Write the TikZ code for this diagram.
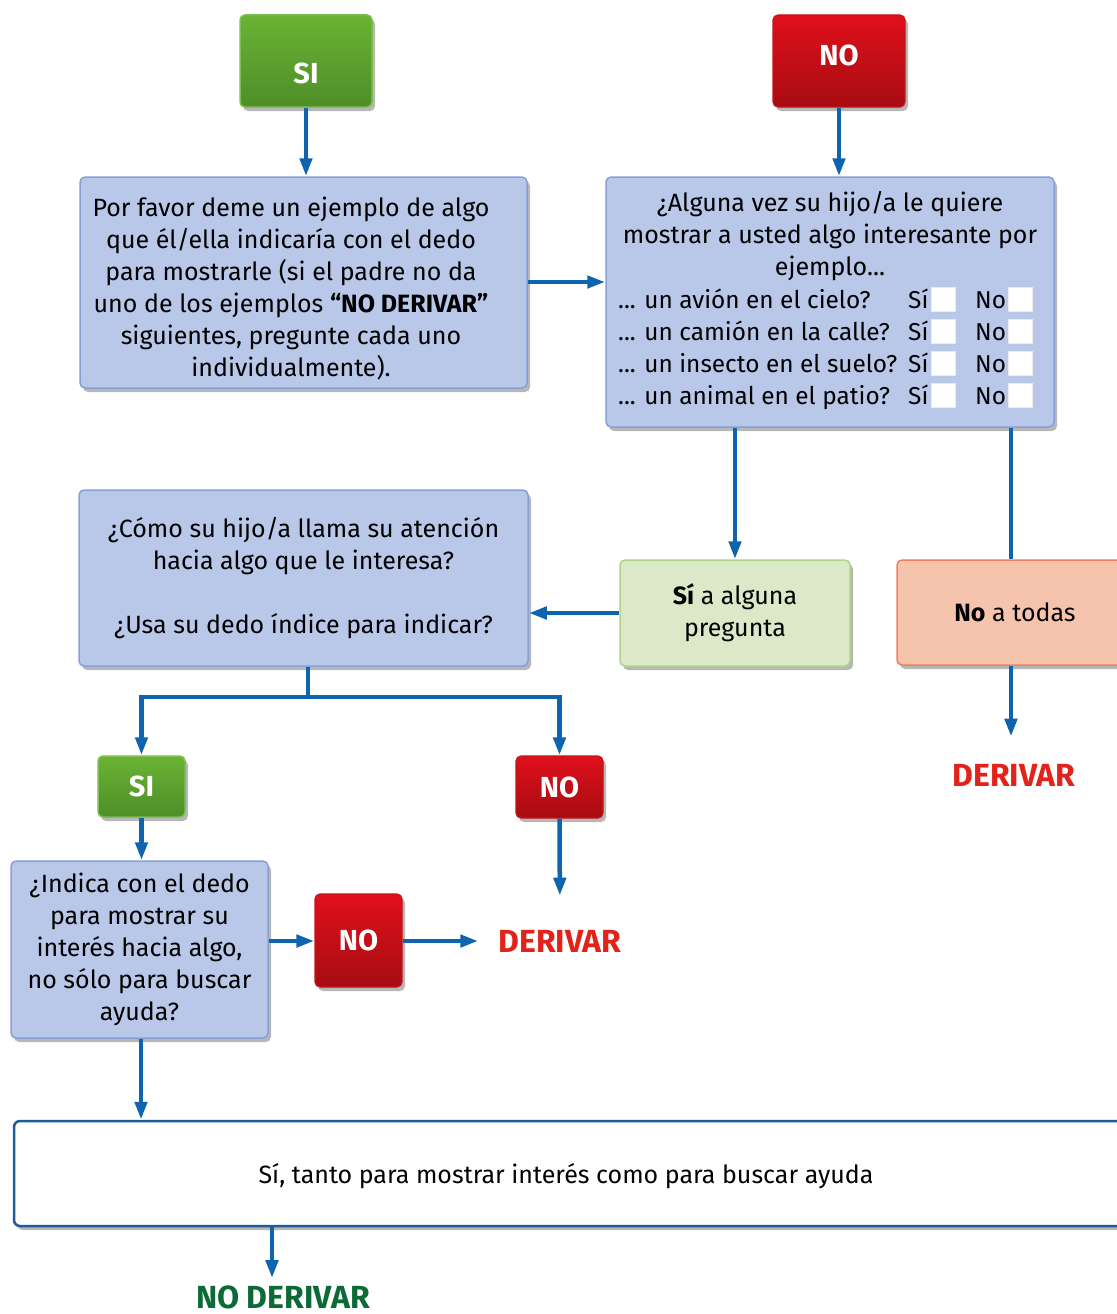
\documentclass[tikz,border=0pt]{standalone}
\usepackage{fontspec}
\setmainfont{Fira Sans}
\usetikzlibrary{arrows.meta,shadows,calc}
\definecolor{boxfill}{HTML}{B9C8E9}
\definecolor{boxborder}{HTML}{86A0D5}
\definecolor{arrowblue}{HTML}{0F64B0}
\definecolor{gtop}{HTML}{6AB334}
\definecolor{gbot}{HTML}{4E8E28}
\definecolor{gborder}{HTML}{7DBF50}
\definecolor{rtop}{HTML}{E0101C}
\definecolor{rbot}{HTML}{A60C10}
\definecolor{rborder}{HTML}{C4141C}
\definecolor{lgfill}{HTML}{DCE9C8}
\definecolor{lgborder}{HTML}{B2D28C}
\definecolor{salfill}{HTML}{F6C3AD}
\definecolor{salborder}{HTML}{EE8060}
\definecolor{wborder}{HTML}{1F5B99}
\definecolor{derred}{HTML}{E2231A}
\definecolor{dergreen}{HTML}{0B6A35}
\newcommand\bodyf{\fontsize{25}{32}\selectfont}
\newcommand\rowf{\fontsize{24.4}{32}\selectfont}
\newcommand\headf{\fontsize{29}{32}\selectfont\bfseries}
\newcommand\derf{\fontsize{32}{36}\selectfont\bfseries}
\tikzset{
  shad/.style={drop shadow={shadow xshift=3pt,shadow yshift=-4pt,opacity=.4,fill=black!70}},
  bluebox/.style={shad,draw=boxborder,line width=1.5pt,fill=boxfill,rounded corners=5pt,align=center,font=\bodyf,inner sep=0pt},
  greenhead/.style={shad,draw=gborder,line width=1.5pt,top color=gtop,bottom color=gbot,rounded corners=5pt,text=white,font=\headf,inner sep=0pt},
  redhead/.style={shad,draw=rborder,line width=1.2pt,top color=rtop,bottom color=rbot,rounded corners=5pt,text=white,font=\headf,inner sep=0pt},
  headtext/.style={text=white,font=\headf,inner sep=0pt},
  lgbox/.style={shad,draw=lgborder,line width=1.5pt,fill=lgfill,rounded corners=5pt,align=center,font=\bodyf,inner sep=0pt},
  salbox/.style={shad,draw=salborder,line width=1.5pt,fill=salfill,rounded corners=5pt,align=center,font=\bodyf,inner sep=0pt},
  whitebox/.style={shad,draw=wborder,line width=2.5pt,fill=white,rounded corners=6pt,align=center,font=\bodyf,inner sep=0pt},
  rowtext/.style={font=\rowf,inner sep=0pt,anchor=base west},
  cbox/.style={fill=white,draw=black!8,line width=0.6pt,minimum width=24pt,minimum height=24pt,inner sep=0pt},
  arr/.style={line width=4.5pt,draw=arrowblue,-{Triangle[length=18pt,width=12pt]}},
  plainline/.style={line width=4.5pt,draw=arrowblue},
  derr/.style={font=\derf,text=derred,inner sep=0pt},
  derg/.style={font=\derf,text=dergreen,inner sep=0pt}
}
\begin{document}
\begin{tikzpicture}[x=1pt,y=-1pt]
\useasboundingbox (0,0) rectangle (1116,1314);
% top headings
\node[greenhead,minimum width=132pt,minimum height=92pt] (si1) at (306,61) {};
\node[headtext] (si1t) at (306,73) {SI};
\node[redhead,minimum width=132pt,minimum height=92pt] (no1) at (839,61) {};
\node[headtext] (no1t) at (839,55) {NO};
% box 1
\node[bluebox,minimum width=447pt,minimum height=211pt] (b1) at (303.5,282.5) {};
\node[font=\bodyf,align=center,inner sep=0pt] (b1t) at (291,289) {Por favor deme un ejemplo de algo\\que él/ella indicaría con el dedo\\para mostrarle (si el padre no da\\uno de los ejemplos \textbf{“NO DERIVAR”}\\siguientes, pregunte cada uno\\individualmente).};
% box 2
\node[bluebox,minimum width=448pt,minimum height=250pt] (b2) at (830,302) {};
\node[font=\bodyf,align=center,inner sep=0pt] (b2t) at (830,236) {¿Alguna vez su hijo/a le quiere\\mostrar a usted algo interesante por\\ejemplo...};
\foreach \i/\q [evaluate=\i as \yy using 308+32*(\i-1)] in {1/{... un avión en el cielo?},2/{... un camión en la calle?},3/{... un insecto en el suelo?},4/{... un animal en el patio?}}{
  \node[rowtext] (q\i) at (618,\yy) {\q};
  \node[rowtext] (sy\i) at (908,\yy) {Sí};
  \node[cbox] (cs\i) at (943,\yy-9) {};
  \node[rowtext] (nn\i) at (975,\yy) {No};
  \node[cbox] (cn\i) at (1020,\yy-9) {};
}
% box 3
\node[bluebox,minimum width=449pt,minimum height=176pt] (b3) at (303.5,578) {¿Cómo su hijo/a llama su atención\\hacia algo que le interesa?\\[32pt]¿Usa su dedo índice para indicar?};
% light green
\node[lgbox,minimum width=230pt,minimum height=106pt] (g) at (735,613) {\textbf{Sí} a alguna\\pregunta};
% salmon
\node[salbox,minimum width=236pt,minimum height=105pt] (s) at (1015,612.5) {\textbf{No} a todas};
\node[derr] (d1) at (1014,775) {DERIVAR};
% second level headings
\node[greenhead,minimum width=87pt,minimum height=61pt] (si2) at (141.5,786.5) {SI};
\node[redhead,minimum width=87pt,minimum height=62pt] (no2) at (559.5,787) {NO};
% box 4
\node[bluebox,minimum width=257pt,minimum height=177pt] (b4) at (139.5,949.5) {¿Indica con el dedo\\para mostrar su\\interés hacia algo,\\no sólo para buscar\\ayuda?};
\node[redhead,minimum width=87pt,minimum height=93pt] (no3) at (358.5,940.5) {NO};
\node[derr] (d2) at (560,941) {DERIVAR};
% bottom white box
\node[whitebox,minimum width=1116pt,minimum height=105pt] (w) at (572,1173.5) {};
\node[font=\bodyf,inner sep=0pt] (wt) at (566,1176) {Sí, tanto para mostrar interés como para buscar ayuda};
\node[derg] (nd) at (283,1297) {NO DERIVAR};
% connectors
\draw[arr] (si1.south) -- (si1.south |- b1.north);
\draw[arr] (no1.south) -- (no1.south |- b2.north);
\draw[arr] (b1.east |- 0,282) -- (b2.west |- 0,282);
\draw[arr] (g.north |- b2.south) -- (g.north);
\draw[plainline] (1011,0 |- b2.south) -- (1011,0 |- s.north);
\draw[arr] (g.west) -- (g.west -| b3.east);
\coordinate (j) at (308,697);
\draw[plainline] (308,0 |- b3.south) -- (j);
\draw[arr] (j) -| (si2.north);
\draw[arr] (j) -| (no2.north);
\draw[arr,shorten >=34pt] (no2.south) -- (d2.north);
\draw[arr] (1011,0 |- s.south) -- ($(1011,0 |- d1.north)+(0,-27)$);
\draw[arr] (si2.south) -- (si2.south |- b4.north);
\draw[arr] (b4.east |- 0,941) -- (no3.west |- 0,941);
\draw[arr,shorten >=20pt] (no3.east |- 0,941) -- (d2.west |- 0,941);
\draw[arr] (b4.south -| 141,0) -- (w.north -| 141,0);
\draw[arr,shorten >=7pt] (w.south -| 272,0) -- (nd.north -| 272,0);
\end{tikzpicture}
\end{document}
